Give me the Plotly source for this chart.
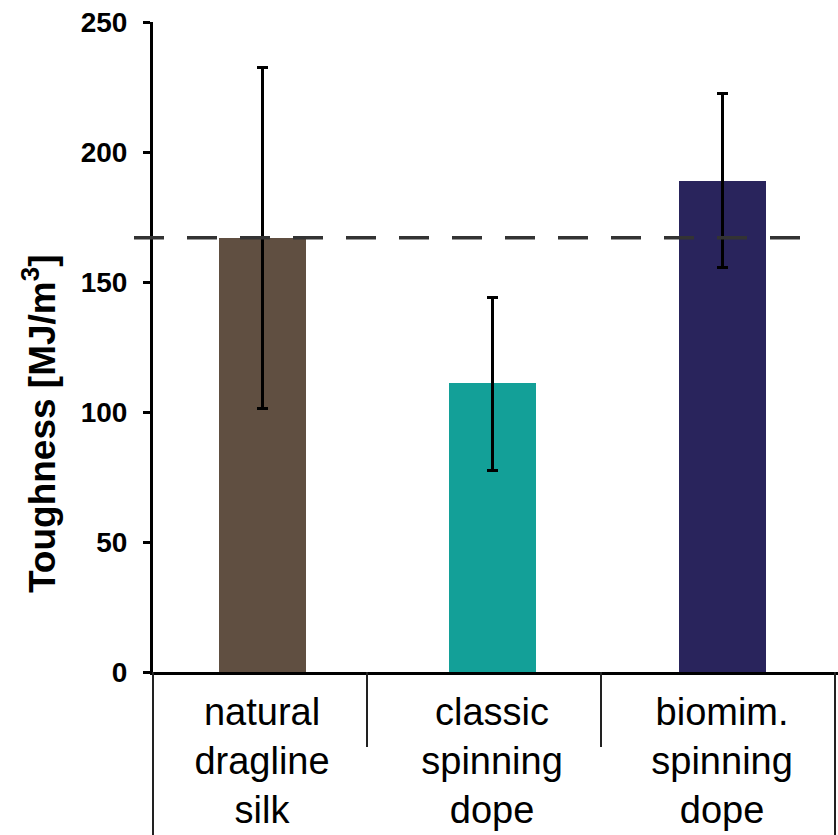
import plotly.graph_objects as go

categories = ["natural<br>dragline<br>silk", "classic<br>spinning<br>dope", "biomim.<br>spinning<br>dope"]
toughness = [167, 111, 189]
err_plus = [65.5, 33, 33.5]
err_minus = [65.5, 33.5, 33.5]
colors = ["#604F41", "#13A098", "#29245C"]
reference_value = 167
y_ticks = [0, 50, 100, 150, 200, 250]

x_pos = list(range(len(categories)))

W, H = 838, 835
ML, MR, MT, MB = 153, 0, 22, 163
PW = W - ML - MR
PH = H - MT - MB

fig = go.Figure()
fig.add_trace(go.Bar(
    x=x_pos, y=toughness,
    marker=dict(color=colors, line=dict(width=0)),
    width=0.378,
    error_y=dict(type="data", symmetric=False, array=err_plus, arrayminus=err_minus,
                 color="black", thickness=3, width=5.5),
    showlegend=False,
))

def px2paper_x(px):
    return (px - ML) / PW

def py2paper_y(py):
    return (H - MB - py) / PH

# dashed reference line
fig.add_shape(type="line", xref="paper", yref="y",
              x0=px2paper_x(134), x1=px2paper_x(807),
              y0=reference_value, y1=reference_value,
              line=dict(color="#333333", width=3.5, dash="30px,23px"), layer="above")

# table-like dividers beneath the x axis
for px, bottom in [(153, 835), (367, 747), (601, 747), (835, 835)]:
    fig.add_shape(type="line", xref="paper", yref="paper",
                  x0=px2paper_x(px), x1=px2paper_x(px),
                  y0=0, y1=py2paper_y(bottom),
                  line=dict(color="#222222", width=2))

fig.add_annotation(text="<b>Toughness [MJ/m<sup>3</sup>]</b>", textangle=-90,
                   xref="paper", yref="paper", x=px2paper_x(40), y=py2paper_y(424),
                   xanchor="center", yanchor="middle", showarrow=False,
                   font=dict(family="Liberation Sans, Arial", size=37, color="black"))

fig.update_layout(
    width=W, height=H,
    margin=dict(l=ML, r=MR, t=MT, b=MB, pad=0, autoexpand=False),
    paper_bgcolor="white", plot_bgcolor="white",
    xaxis=dict(range=[-0.474, 2.504], tickvals=x_pos, ticktext=categories,
               showline=True, linecolor="black", linewidth=3, automargin=False,
               ticks="", showgrid=False, zeroline=False,
               tickfont=dict(family="Liberation Sans, Arial", size=38, color="black"),
               ticklabelstandoff=4),
    yaxis=dict(range=[0, 250], tickvals=y_ticks, showline=True, linecolor="black",
               linewidth=3, ticks="outside", ticklen=7, tickwidth=3, tickcolor="black",
               showgrid=False, zeroline=False, automargin=False,
               tickfont=dict(family="Liberation Sans, Arial", size=28, color="black", weight="bold"),
               ticklabelstandoff=10),
    bargap=0,
)

fig.write_html("out.html")
